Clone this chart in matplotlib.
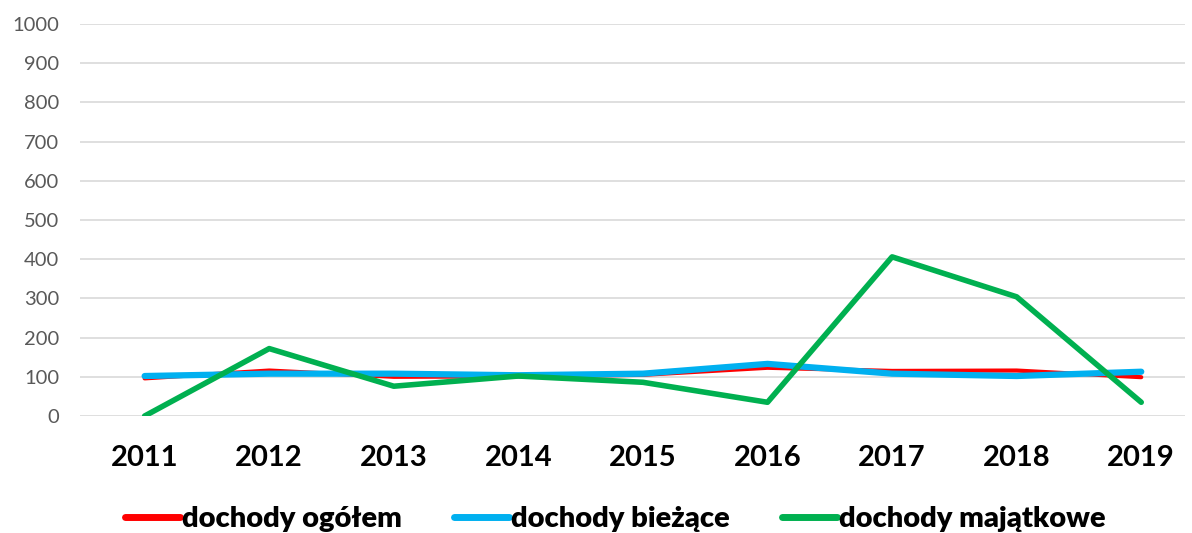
import matplotlib
matplotlib.use("Agg")
import matplotlib.pyplot as plt

years = ["2011", "2012", "2013", "2014", "2015", "2016", "2017", "2018", "2019"]
ogolem = [96, 116, 100, 101, 105, 123, 115, 116, 99]
biezace = [102, 108, 108, 104, 108, 133, 108, 102, 113]
majatkowe = [0, 172, 76, 102, 86, 35, 406, 304, 35]

plt.rcParams['font.family'] = ['Lato', 'DejaVu Sans']

fig = plt.figure(figsize=(11.92, 5.33), dpi=100)
ax = fig.add_axes([0.067, 0.2195, 0.927, 0.7355])

x = list(range(len(years)))
ax.plot(x, ogolem, color="#FF0000", lw=3.0, label="dochody ogółem", solid_capstyle="round", zorder=3)
ax.plot(x, biezace, color="#00B0F0", lw=4.5, label="dochody bieżące", solid_capstyle="round", zorder=4)
ax.plot(x, majatkowe, color="#00B050", lw=4.0, label="dochody majątkowe", solid_capstyle="round", zorder=5)

ax.set_xlim(-0.52, 8.35)
ax.set_ylim(0, 1000)
ax.set_yticks(range(0, 1001, 100))
ax.set_xticks(x)
ax.set_xticklabels(years, fontsize=21, fontweight="bold", color="black")
ax.tick_params(axis="y", labelsize=14.5, colors="#595959", length=0, pad=15)
ax.tick_params(axis="x", length=0, pad=21)
ax.grid(axis="y", color="#D9D9D9", lw=1.2)
ax.set_axisbelow(True)
for s in ax.spines.values():
    s.set_visible(False)

leg = fig.legend(loc="lower center", bbox_to_anchor=(0.516, -0.048), ncol=3, frameon=False,
                 prop={"size": 21, "weight": "heavy"}, handlelength=1.9, handletextpad=0.05,
                 columnspacing=1.8)
for h in leg.get_lines():
    h.set_linewidth(5)

fig.savefig("out.png", dpi=100)
